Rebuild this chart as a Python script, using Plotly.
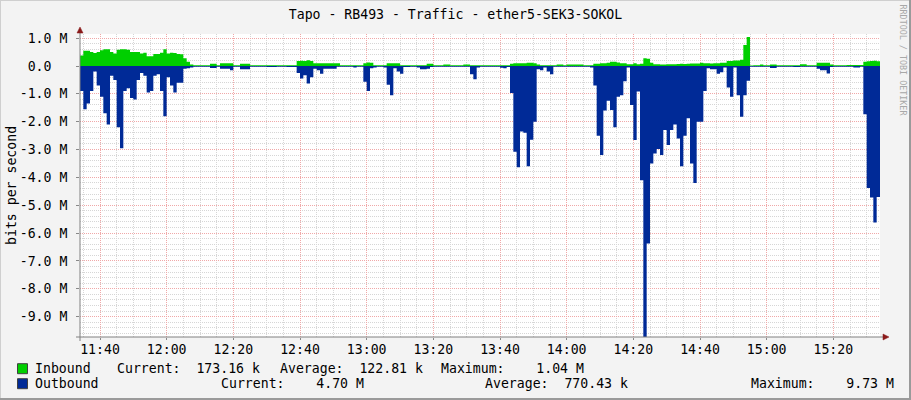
import plotly.graph_objects as go
import pandas as pd

# ---------------- data (values in Mbit/s, one sample per minute) ----------------
START = "2024-01-01 11:34"

inbound_mbps = [
    0.38, 0.55, 0.55, 0.50, 0.47, 0.50, 0.57, 0.60, 0.60, 0.50,
    0.45, 0.58, 0.60, 0.60, 0.58, 0.50, 0.50, 0.50, 0.45, 0.48,
    0.35, 0.35, 0.43, 0.43, 0.48, 0.60, 0.45, 0.48, 0.47, 0.43,
    0.42, 0.28, 0.15, 0.05, 0.03, 0.03, 0.03, 0.03, 0.03, 0.08,
    0.08, 0.03, 0.10, 0.10, 0.10, 0.10, 0.03, 0.03, 0.08, 0.08,
    0.08, 0.03, 0.03, 0.03, 0.03, 0.03, 0.03, 0.03, 0.03, 0.03,
    0.03, 0.03, 0.03, 0.03, 0.03, 0.18, 0.19, 0.18, 0.21, 0.18,
    0.10, 0.10, 0.10, 0.10, 0.10, 0.10, 0.10, 0.10, 0.03, 0.03,
    0.03, 0.03, 0.03, 0.03, 0.03, 0.10, 0.13, 0.12, 0.03, 0.03,
    0.03, 0.03, 0.10, 0.10, 0.10, 0.10, 0.03, 0.03, 0.03, 0.03,
    0.03, 0.03, 0.03, 0.03, 0.08, 0.08, 0.03, 0.03, 0.03, 0.05,
    0.05, 0.03, 0.03, 0.03, 0.03, 0.05, 0.05, 0.03, 0.03, 0.03,
    0.03, 0.03, 0.03, 0.03, 0.03, 0.03, 0.03, 0.03, 0.03, 0.08,
    0.10, 0.10, 0.10, 0.10, 0.12, 0.12, 0.10, 0.05, 0.03, 0.03,
    0.03, 0.03, 0.03, 0.05, 0.05, 0.03, 0.05, 0.05, 0.05, 0.05,
    0.05, 0.03, 0.03, 0.03, 0.08, 0.08, 0.10, 0.10, 0.12, 0.15,
    0.15, 0.13, 0.10, 0.10, 0.06, 0.06, 0.10, 0.06, 0.08, 0.28,
    0.26, 0.12, 0.06, 0.06, 0.05, 0.05, 0.06, 0.06, 0.06, 0.07,
    0.08, 0.07, 0.08, 0.09, 0.09, 0.09, 0.12, 0.10, 0.10, 0.09,
    0.10, 0.10, 0.12, 0.12, 0.18, 0.18, 0.20, 0.20, 0.22, 0.75,
    1.04, 0.02, 0.03, 0.03, 0.05, 0.03, 0.03, 0.05, 0.05, 0.03,
    0.03, 0.03, 0.03, 0.03, 0.03, 0.03, 0.06, 0.06, 0.03, 0.03,
    0.03, 0.12, 0.12, 0.12, 0.12, 0.05, 0.03, 0.03, 0.03, 0.03,
    0.04, 0.04, 0.04, 0.04, 0.04, 0.15, 0.17, 0.18, 0.19, 0.17,
]

outbound_mbps = [
    0.90, 1.55, 1.35, 0.90, 0.20, 0.70, 1.10, 1.70, 2.10, 0.35,
    0.50, 2.20, 2.95, 0.90, 0.80, 1.15, 1.20, 0.50, 0.25, 0.35,
    0.95, 0.90, 0.35, 0.30, 0.90, 1.80, 0.40, 0.70, 0.95, 0.60,
    0.60, 0.10, 0.08, 0.05, 0.03, 0.03, 0.03, 0.03, 0.03, 0.07,
    0.07, 0.03, 0.10, 0.10, 0.10, 0.15, 0.03, 0.03, 0.12, 0.12,
    0.12, 0.03, 0.03, 0.03, 0.03, 0.03, 0.04, 0.04, 0.04, 0.03,
    0.03, 0.03, 0.04, 0.04, 0.04, 0.25, 0.45, 0.33, 0.63, 0.40,
    0.10, 0.15, 0.28, 0.10, 0.10, 0.10, 0.10, 0.03, 0.03, 0.03,
    0.03, 0.03, 0.05, 0.03, 0.03, 0.57, 0.90, 0.08, 0.05, 0.03,
    0.03, 0.05, 0.67, 1.05, 0.08, 0.20, 0.28, 0.04, 0.04, 0.03,
    0.03, 0.05, 0.12, 0.12, 0.10, 0.04, 0.03, 0.03, 0.03, 0.03,
    0.03, 0.03, 0.03, 0.03, 0.03, 0.03, 0.03, 0.30, 0.48, 0.05,
    0.03, 0.03, 0.03, 0.03, 0.03, 0.03, 0.06, 0.08, 0.04, 0.97,
    3.08, 3.64, 2.35, 2.40, 3.60, 2.65, 2.00, 0.12, 0.15, 0.05,
    0.20, 0.30, 0.03, 0.03, 0.03, 0.03, 0.03, 0.03, 0.03, 0.03,
    0.03, 0.03, 0.03, 0.05, 0.70, 2.50, 3.20, 1.60, 1.25, 1.58,
    2.20, 1.10, 1.05, 0.55, 0.05, 1.40, 2.66, 0.92, 4.10, 9.73,
    6.37, 3.50, 3.14, 2.98, 3.20, 2.30, 2.84, 2.30, 2.10, 2.60,
    3.60, 2.50, 1.88, 3.50, 4.20, 2.00, 2.00, 0.90, 0.08, 0.12,
    0.12, 0.28, 0.22, 0.05, 0.77, 1.10, 0.05, 1.05, 1.82, 1.05,
    0.53, 0.03, 0.03, 0.03, 0.03, 0.03, 0.03, 0.07, 0.07, 0.03,
    0.03, 0.03, 0.03, 0.03, 0.04, 0.04, 0.03, 0.03, 0.03, 0.03,
    0.03, 0.10, 0.15, 0.15, 0.27, 0.04, 0.03, 0.03, 0.03, 0.03,
    0.03, 0.03, 0.05, 0.05, 0.03, 1.73, 4.38, 4.72, 5.62, 4.70,
]

y_tick_values = [1e6, 0, -1e6, -2e6, -3e6, -4e6, -5e6, -6e6, -7e6, -8e6, -9e6]
y_tick_labels = ["1.0 M", "0.0\u00a0\u00a0", "-1.0 M", "-2.0 M", "-3.0 M", "-4.0 M",
                 "-5.0 M", "-6.0 M", "-7.0 M", "-8.0 M", "-9.0 M"]

title_text = "Tapo - RB493 - Traffic - ether5-SEK3-SOKOL"
y_title = "bits per second"
watermark = "RRDTOOL / TOBI OETIKER"

legend_rows = [
    # (label, colour, [(text, x_px), ...])
    ("Inbound", "#00CF00", [("Current:  173.16 k", 116.2), ("Average:  122.81 k", 278.9),
                            ("Maximum:    1.04 M", 439.9)]),
    ("Outbound", "#002A97", [("Current:    4.70 M", 219.6), ("Average:  770.43 k", 484.0),
                             ("Maximum:    9.73 M", 749.6)]),
]

# ---------------- geometry helpers (pixel -> paper) ----------------
W, H = 911, 400
L, R, T, B = 80, 31, 34, 63
PW, PH = W - L - R, H - T - B


def px(x):
    return (x - L) / PW


def py(y):
    return (H - B - y) / PH


FONT = "DejaVu Sans Mono"
FS = 13.2

times = pd.date_range(START, periods=len(inbound_mbps) + 1, freq="min")
inb = [v * 1e6 for v in inbound_mbps] + [inbound_mbps[-1] * 1e6]
out = [-v * 1e6 for v in outbound_mbps] + [-outbound_mbps[-1] * 1e6]

fig = go.Figure()
fig.add_trace(go.Scatter(x=times, y=out, mode="lines", line=dict(width=0, shape="hv", color="#002A97"),
                         fill="tozeroy", fillcolor="#002A97", hoverinfo="skip", showlegend=False))
fig.add_trace(go.Scatter(x=times, y=inb, mode="lines", line=dict(width=0, shape="hv", color="#00CF00"),
                         fill="tozeroy", fillcolor="#00CF00", hoverinfo="skip", showlegend=False))

MAJ = "#F0A8A8"
MIN = "#D6D6D6"
DASH = "1px,1px"

fig.update_layout(
    width=W, height=H,
    margin=dict(l=L, r=R, t=T, b=B),
    paper_bgcolor="#F3F3F3",
    plot_bgcolor="#FFFFFF",
    font=dict(family=FONT, size=FS, color="#000000"),
    title=dict(text=title_text, x=0.5, xref="container", xanchor="center",
               y=1 - 14.3 / H, yref="container", yanchor="middle",
               font=dict(family=FONT, size=FS, color="#000000")),
    showlegend=False,
    xaxis=dict(
        type="date",
        range=[times[0], times[-1]],
        tickformat="%H:%M",
        dtick=20 * 60 * 1000,
        tick0="2024-01-01 11:40",
        showgrid=True, gridcolor=MAJ, griddash=DASH, gridwidth=1,
        minor=dict(dtick=5 * 60 * 1000, showgrid=True, gridcolor=MIN, griddash=DASH, gridwidth=1),
        zeroline=False, showline=False,
        ticks="outside", ticklen=2, tickcolor="#888888",
        ticklabelstandoff=-2,
        tickfont=dict(family=FONT, size=FS, color="#000000"),
        fixedrange=True,
    ),
    yaxis=dict(
        range=[-(H - B - 66) / 27.85 * 1e6, (66 - T) / 27.85 * 1e6],
        tickmode="array", tickvals=y_tick_values, ticktext=y_tick_labels,
        showgrid=True, gridcolor=MAJ, griddash=DASH, gridwidth=1,
        minor=dict(dtick=2e5, tick0=0, showgrid=True, gridcolor=MIN, griddash=DASH, gridwidth=1),
        zeroline=False, showline=False,
        ticks="outside", ticklen=3, tickcolor="#888888",
        ticklabelstandoff=6,
        tickfont=dict(family=FONT, size=FS, color="#000000"),
        fixedrange=True,
    ),
)

shapes = []
# outer 3D border
shapes.append(dict(type="line", xref="paper", yref="paper", x0=px(0), x1=px(W), y0=py(0.5), y1=py(0.5),
                   line=dict(color="#CFCFCF", width=1)))
shapes.append(dict(type="line", xref="paper", yref="paper", x0=px(0.5), x1=px(0.5), y0=py(0), y1=py(H),
                   line=dict(color="#CFCFCF", width=1)))
shapes.append(dict(type="line", xref="paper", yref="paper", x0=px(0), x1=px(W), y0=py(H - 1), y1=py(H - 1),
                   line=dict(color="#9A9A9A", width=2)))
shapes.append(dict(type="line", xref="paper", yref="paper", x0=px(W - 1), x1=px(W - 1), y0=py(0), y1=py(H),
                   line=dict(color="#9A9A9A", width=2)))
# axes
shapes.append(dict(type="line", xref="paper", yref="paper", x0=0, x1=0, y0=py(341), y1=py(31),
                   line=dict(color="#808080", width=1)))
shapes.append(dict(type="line", xref="paper", yref="paper", x0=px(76), x1=px(884), y0=0, y1=0,
                   line=dict(color="#808080", width=1)))
# arrow heads
shapes.append(dict(type="path", xref="paper", yref="paper",
                   path=f"M {px(80)} {py(27)} L {px(77)} {py(33)} L {px(83)} {py(33)} Z",
                   fillcolor="#8B1A1A", line=dict(color="#8B1A1A", width=0.5)))
shapes.append(dict(type="path", xref="paper", yref="paper",
                   path=f"M {px(889)} {py(337)} L {px(883)} {py(334)} L {px(883)} {py(340)} Z",
                   fillcolor="#8B1A1A", line=dict(color="#8B1A1A", width=0.5)))

annotations = []
row_y = [368.7, 383.7]
for (label, colour, items), ry in zip(legend_rows, row_y):
    shapes.append(dict(type="rect", xref="paper", yref="paper",
                       x0=px(17.5), x1=px(27.5), y0=py(ry + 5), y1=py(ry - 5),
                       fillcolor=colour, line=dict(color="#404040", width=1)))
    annotations.append(dict(text=label, xref="paper", yref="paper", x=px(32.5), y=py(ry),
                            xanchor="left", yanchor="middle", showarrow=False,
                            font=dict(family=FONT, size=FS, color="#000000")))
    for txt, xp in items:
        annotations.append(dict(text=txt.replace(" ", "\u00a0"), xref="paper", yref="paper",
                                x=px(xp - 1), y=py(ry), xanchor="left", yanchor="middle",
                                showarrow=False, font=dict(family=FONT, size=FS, color="#000000")))

annotations.append(dict(text=y_title, xref="paper", yref="paper", x=px(11), y=py(186),
                        xanchor="center", yanchor="middle", textangle=-90, showarrow=False,
                        font=dict(family=FONT, size=FS, color="#000000")))
annotations.append(dict(text=watermark, xref="paper", yref="paper", x=px(902.5), y=py(60),
                        xanchor="center", yanchor="middle", textangle=90, showarrow=False,
                        font=dict(family=FONT, size=8.4, color="#A8A8A8")))

fig.update_layout(shapes=shapes, annotations=annotations)

fig.write_html("out.html", config=dict(displayModeBar=False, staticPlot=True),
               post_script="document.body.style.margin='0';document.body.style.overflow='hidden';")
